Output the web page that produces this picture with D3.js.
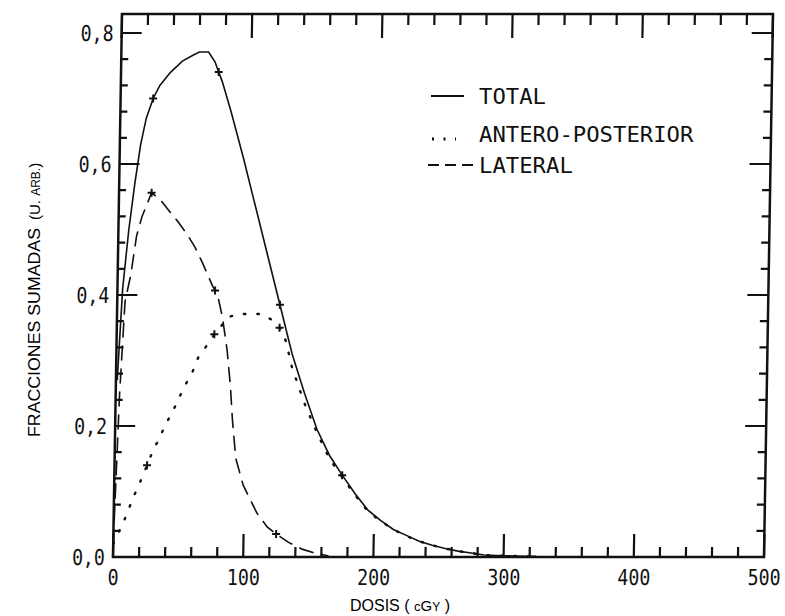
<!DOCTYPE html>
<html>
<head>
<meta charset="utf-8">
<script src="https://cdnjs.cloudflare.com/ajax/libs/d3/7.8.5/d3.min.js"></script>
<style>
body{margin:0;background:#fff;}
svg{display:block;}
</style>
</head>
<body>
<div class="visualisation"></div>
<script>
const width=785,
      height=616,
      mono='DejaVu Sans Mono',
      sans='Liberation Sans';

// values: dose (cGy) and summed fraction (arb. units)
const totalDose=[1,4,8,12,16,20,25,30,38,47,55,60,67,72,78,85,95,105,115,125,135,145,155,165,175,185,195,205,215,225,235,245,255,265,275,285,300,315,325];
const totalFrac=[0.27,0.41,0.50,0.57,0.63,0.67,0.70,0.72,0.74,0.757,0.766,0.771,0.771,0.756,0.725,0.68,0.61,0.535,0.46,0.385,0.31,0.25,0.195,0.155,0.125,0.097,0.072,0.056,0.042,0.033,0.024,0.018,0.013,0.009,0.006,0.003,0.002,0.001,0.001];
const apDose=[0,8,12,15,19,25,30,34,38,44,51,55,59,63,68,75,80,85,93,103,111,119,125,130,135,145,155,165,175,185,195,205,215,225,235,245,255,265,275,285,300,325];
const apFrac=[0.02,0.055,0.076,0.092,0.11,0.14,0.166,0.18,0.2,0.222,0.253,0.269,0.284,0.305,0.319,0.34,0.352,0.366,0.371,0.371,0.371,0.362,0.35,0.33,0.29,0.235,0.19,0.15,0.122,0.095,0.07,0.055,0.042,0.032,0.024,0.018,0.013,0.009,0.006,0.003,0.002,0.001];
const latDose=[0,3,6,10,14,18,25,32,38,46,53,59,65,73,77,81,85,88,90,93,99,110,118,125,135,145,155,165];
const latFrac=[0.02,0.25,0.39,0.43,0.49,0.52,0.556,0.545,0.53,0.511,0.492,0.473,0.449,0.414,0.40,0.366,0.316,0.261,0.209,0.151,0.11,0.067,0.046,0.035,0.022,0.012,0.006,0.002];
const totalMarks=[25,75,125,175];
const apMarks=[25,75,125];
const latMarks=[25,75,125];
const xTicks=[0,100,200,300,400,500];
const yTicks=[0,0.2,0.4,0.6,0.8];
const legendNames=["TOTAL","ANTERO-POSTERIOR","LATERAL"];

let x=d3.scaleLinear().domain([0,500]).range([113,764]);
let y=d3.scaleLinear().domain([0,0.8]).range([557,33]);
let yTop=y.invert(14);
let slant=9/543; //the scanned page leans a little

let fmt=d3.formatLocale({decimal:",",thousands:".",grouping:[3],currency:["",""]}).format(".1f");
let xMinor=d3.range(0,26).map(i=>i*20);
let yMinor=d3.range(0,21).map(i=>+(i*0.04).toFixed(2));
let isMajorX=v=>v%100==0;
let isMajorY=v=>Math.abs(v/0.2-Math.round(v/0.2))<1e-6;

var svg=d3.select(".visualisation").append("svg")
          .attr("width",width)
          .attr("height",height);
svg.append("rect").attr("width",width).attr("height",height).attr("fill","#fff");

let g=svg.append("g")
  .attr("transform","translate("+(slant*557)+",0) skewX("+(-Math.atan(slant)*180/Math.PI)+")");

// frame
g.append("rect")
 .attr("x",x(0)).attr("y",y(yTop))
 .attr("width",x(500)-x(0)).attr("height",y(0)-y(yTop))
 .attr("fill","none").attr("stroke","#111").attr("stroke-width",2.5);

// tick marks, pointing inward on all four sides
let tickData=[].concat(
  xMinor.map(v=>({x1:x(v),x2:x(v),y1:y(0),y2:y(0)-(isMajorX(v)?23:10)})),
  xMinor.map(v=>({x1:x(v),x2:x(v),y1:y(yTop),y2:y(yTop)+(isMajorX(v)?24:11)})),
  yMinor.map(v=>({x1:x(0),x2:x(0)+(isMajorY(v)?20:7),y1:y(v),y2:y(v)})),
  yMinor.map(v=>({x1:x(500),x2:x(500)-(isMajorY(v)?21:8),y1:y(v),y2:y(v)}))
);
g.append("g").selectAll("line")
 .data(tickData)
 .enter()
 .append("line")
 .attr("x1",d=>d.x1).attr("x2",d=>d.x2)
 .attr("y1",d=>d.y1).attr("y2",d=>d.y2)
 .attr("stroke","#111")
 .attr("stroke-width",2.2);

function styleLabels(sel){
  sel.select(".domain").remove();
  sel.selectAll(".tick line").remove();
  sel.selectAll("text")
     .attr("fill","#111")
     .style("font-family",mono)
     .style("font-size","22px")
     .attr("textLength",function(){return this.textContent.length*11;})
     .attr("lengthAdjust","spacingAndGlyphs");
}

g.append("g").attr("transform","translate(0,"+y(0)+")")
 .call(d3.axisBottom(x).tickValues(xTicks).tickSize(0).tickPadding(12).tickFormat(d3.format("d")))
 .call(styleLabels);
g.append("g").attr("transform","translate("+x(0)+",0)")
 .call(d3.axisLeft(y).tickValues(yTicks).tickSize(0).tickPadding(8).tickFormat(fmt))
 .call(styleLabels);

let line=d3.line().x(d=>x(d[0])).y(d=>y(d[1]));

function interp(doses,fracs,d){
  let i=d3.bisectLeft(doses,d);
  if(i<=0) return fracs[0];
  let t=(d-doses[i-1])/(doses[i]-doses[i-1]);
  return fracs[i-1]+t*(fracs[i]-fracs[i-1]);
}

function drawCurve(doses,fracs,marks,dash,w){
  g.append("path")
   .datum(d3.zip(doses,fracs))
   .attr("d",line)
   .attr("fill","none")
   .attr("stroke","#111")
   .attr("stroke-width",w)
   .attr("stroke-dasharray",dash)
   .attr("stroke-linecap",dash?"round":"butt");
  g.selectAll(null)
   .data(marks)
   .enter()
   .append("path")
   .attr("d",d=>{
     let px=x(d),py=y(interp(doses,fracs,d));
     return "M"+(px-4)+","+py+"H"+(px+4)+"M"+px+","+(py-4)+"V"+(py+4);
   })
   .attr("stroke","#111")
   .attr("stroke-width",2);
}

drawCurve(apDose,apFrac,apMarks,"1.5 12",2.4);
drawCurve(latDose,latFrac,latMarks,"14 9",1.6);
drawCurve(totalDose,totalFrac,totalMarks,null,1.6);

// legend
let legendY=[96,134,165];
let legend=svg.selectAll("g.legend")
  .data(legendNames)
  .enter()
  .append("g")
  .attr("class","legend");
legend.append("text")
  .attr("x",479)
  .attr("y",(d,i)=>legendY[i]+8)
  .text(d=>d)
  .attr("fill","#111")
  .style("font-family",mono)
  .style("font-size","21px")
  .attr("textLength",d=>d.length*13.4)
  .attr("lengthAdjust","spacingAndGlyphs");
legend.append("line")
  .attr("x1",(d,i)=>[431,432,428][i])
  .attr("x2",(d,i)=>[464,456,473][i])
  .attr("y1",(d,i)=>legendY[i]+(i==1?5:0))
  .attr("y2",(d,i)=>legendY[i]+(i==1?5:0))
  .attr("stroke","#111")
  .attr("stroke-width",(d,i)=>i==1?3:2)
  .attr("stroke-dasharray",(d,i)=>[null,"2 9.5","11 6"][i]);

// axis titles
let xTitle=svg.append("text")
  .attr("x",350).attr("y",611)
  .attr("fill","#000")
  .style("font-family",sans)
  .style("font-size","16px");
xTitle.append("tspan").text("DOSIS ( ");
xTitle.append("tspan").style("font-size","13px").text("c");
xTitle.append("tspan").style("font-size","15px").text("G");
xTitle.append("tspan").style("font-size","12px").text("Y");
xTitle.append("tspan").text(" )");

let yTitle=svg.append("g").attr("transform","translate(40,0) rotate(-90)");
yTitle.append("text")
  .attr("x",-437).attr("y",0)
  .attr("fill","#000")
  .style("font-family",sans)
  .style("font-size","17px")
  .attr("textLength",209)
  .attr("lengthAdjust","spacingAndGlyphs")
  .text("FRACCIONES SUMADAS");
let unit=yTitle.append("text")
  .attr("x",-220).attr("y",0)
  .attr("fill","#000")
  .style("font-family",sans)
  .style("font-size","15px");
unit.append("tspan").text("(U. ");
unit.append("tspan").style("font-size","12px").text("ARB.");
unit.append("tspan").text(")");
</script>
</body>
</html>
